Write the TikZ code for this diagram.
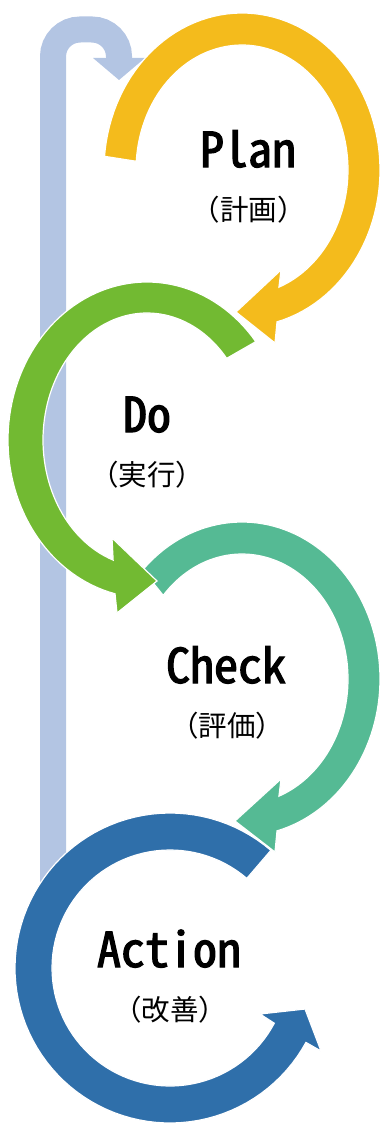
\documentclass[tikz,border=0pt]{standalone}
\usepackage{fontspec}
\newfontfamily\latf[RawFeature=+hwid, FakeBold=2.5]{Noto Sans CJK JP}
\newfontfamily\jpf{Noto Sans CJK JP}
\definecolor{cyel}{HTML}{F4BB1C}
\definecolor{cgrn}{HTML}{72BA32}
\definecolor{cteal}{HTML}{55BA94}
\definecolor{cblue}{HTML}{2F6FAA}
\definecolor{clight}{HTML}{B3C5E3}
\tikzset{
  ring/.style={draw=white, line width=1.2pt, line join=miter},
  lab/.style={font=\latf\fontsize{48}{50}\selectfont, inner sep=0pt, anchor=base},
  sub/.style={font=\jpf\fontsize{28.5}{31}\selectfont, inner sep=0pt, anchor=base},
}
\begin{document}
\begin{tikzpicture}[x=1pt,y=-1pt]
\useasboundingbox (0,0) rectangle (380,1124);
% feedback arrow
\coordinate (fb0) at (53,900);
\coordinate (fb1) at (53,29.5);
\coordinate (fb2) at (119,29.5);
\coordinate (fb3) at (119,59);
\draw[clight, line width=26pt, rounded corners=27pt] (fb0) -- (fb1) -- (fb2) -- (fb3);
\fill[clight] (93,58) -- (119,80) -- (145,58) -- cycle;
% Action ring (blue)
\fill[cblue, ring] plot[domain=-49.4:-331.3, samples=90] ({170+155*cos(\x)},{968+155*sin(\x)})
  -- (321,1051) -- (305,1009) -- (260,1014)
  -- plot[domain=-332.1:-49.4, samples=90] ({170+118*cos(\x)},{968+118*sin(\x)}) -- cycle;
% Check ring (teal)
\fill[cteal, ring] plot[domain=224:435.3, samples=90] ({242+138*cos(\x)},{679+157*sin(\x)})
  -- (275,852) -- (235,821) -- (281,779)
  -- plot[domain=429.6:222, samples=90] ({242+106*cos(\x)},{679+125*sin(\x)}) -- cycle;
% Do ring (green)
\fill[cgrn, ring] plot[domain=-38.5:-256.7, samples=90] ({147+139*cos(\x)},{440+158*sin(\x)})
  -- (117,613) -- (157,581) -- (112,538)
  -- plot[domain=-251:-40, samples=90] ({147+104*cos(\x)},{440+127*sin(\x)}) -- cycle;
% Plan ring (yellow)
\fill[cyel, ring] plot[domain=185:435.3, samples=90] ({242+138*cos(\x)},{170+157*sin(\x)})
  -- (275,343) -- (236,312) -- (281,270)
  -- plot[domain=429.6:184, samples=90] ({242+106*cos(\x)},{170+125*sin(\x)}) -- cycle;
% labels
\node[lab] (plan) at (248,167) {Plan};
\node[sub] (plansub) at (248.5,220.5) {（計画）};
\node[lab] (do) at (147,432) {Do};
\node[sub] (dosub) at (147,485.5) {（実行）};
\node[lab] (check) at (226,683) {Check};
\node[sub] (checksub) at (227,736.5) {（評価）};
\node[lab] (action) at (169,967) {Action};
\node[sub] (actionsub) at (170,1020.5) {（改善）};
\end{tikzpicture}
\end{document}
